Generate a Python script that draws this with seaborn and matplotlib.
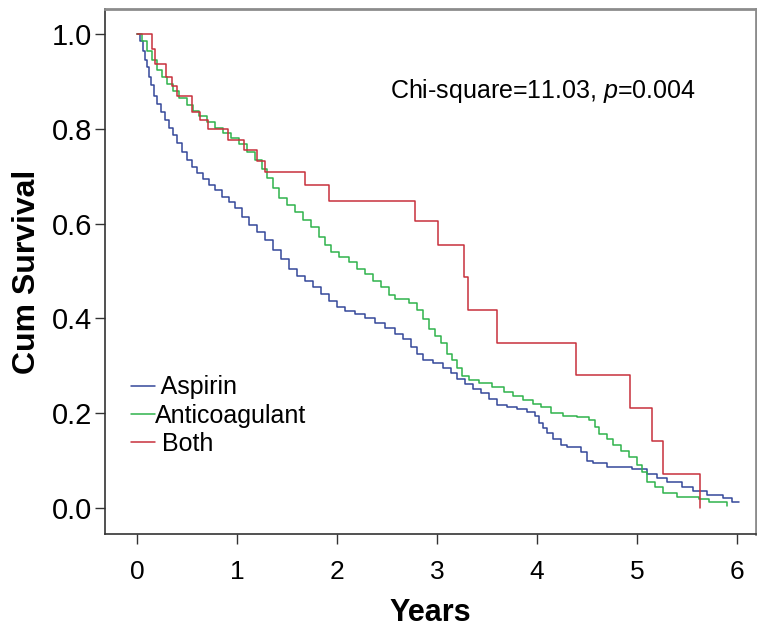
import matplotlib
matplotlib.use('Agg')
import matplotlib.pyplot as plt
import numpy
import pandas
import seaborn

# Kaplan-Meier step curves (time in years, cumulative survival)
aspirin_t = [0.00, 0.03, 0.06, 0.08, 0.10, 0.12, 0.14, 0.17, 0.20, 0.24, 0.28, 0.32, 0.36, 0.40,
             0.45, 0.50, 0.55, 0.60, 0.66, 0.72, 0.78, 0.85, 0.92, 0.98, 1.05, 1.12, 1.20, 1.28,
             1.36, 1.44, 1.52, 1.60, 1.68, 1.76, 1.84, 1.92, 2.00, 2.08, 2.18, 2.28, 2.38, 2.48,
             2.58, 2.66, 2.74, 2.80, 2.86, 2.96, 3.06, 3.14, 3.20, 3.28, 3.36, 3.44, 3.52, 3.60,
             3.70, 3.80, 3.90, 3.98, 4.02, 4.06, 4.10, 4.16, 4.24, 4.30, 4.44, 4.50, 4.56, 4.70,
             4.95, 5.10, 5.20, 5.30, 5.45, 5.56, 5.70, 5.86, 5.95, 6.02]
aspirin_s = [1.000, 0.985, 0.965, 0.945, 0.930, 0.910, 0.893, 0.870, 0.852, 0.835, 0.818, 0.802,
             0.787, 0.770, 0.752, 0.735, 0.720, 0.706, 0.695, 0.682, 0.670, 0.657, 0.645, 0.632,
             0.615, 0.598, 0.582, 0.565, 0.545, 0.525, 0.505, 0.490, 0.478, 0.467, 0.452, 0.437,
             0.425, 0.416, 0.410, 0.400, 0.390, 0.380, 0.368, 0.356, 0.340, 0.325, 0.312, 0.305,
             0.295, 0.285, 0.272, 0.262, 0.252, 0.243, 0.230, 0.218, 0.212, 0.208, 0.202, 0.195,
             0.180, 0.168, 0.158, 0.145, 0.133, 0.128, 0.118, 0.100, 0.094, 0.087, 0.082, 0.072,
             0.064, 0.055, 0.045, 0.036, 0.028, 0.020, 0.013, 0.013]

anticoag_t = [0.00, 0.05, 0.10, 0.15, 0.20, 0.25, 0.30, 0.36, 0.42, 0.50, 0.56, 0.62, 0.70, 0.78,
              0.86, 0.94, 1.02, 1.10, 1.18, 1.25, 1.30, 1.36, 1.42, 1.50, 1.58, 1.66, 1.74, 1.82,
              1.88, 1.94, 2.02, 2.12, 2.20, 2.28, 2.36, 2.44, 2.52, 2.58, 2.72, 2.80, 2.86, 2.92,
              2.98, 3.04, 3.10, 3.15, 3.20, 3.25, 3.32, 3.42, 3.55, 3.67, 3.76, 3.86, 3.96, 4.04,
              4.14, 4.26, 4.40, 4.52, 4.58, 4.62, 4.70, 4.76, 4.84, 4.92, 5.00, 5.05, 5.10, 5.18,
              5.26, 5.40, 5.62, 5.72, 5.90]
anticoag_s = [1.000, 0.985, 0.965, 0.945, 0.925, 0.910, 0.895, 0.880, 0.865, 0.850, 0.838, 0.828,
              0.815, 0.802, 0.792, 0.780, 0.768, 0.752, 0.735, 0.715, 0.697, 0.675, 0.655, 0.640,
              0.625, 0.608, 0.592, 0.572, 0.555, 0.540, 0.530, 0.518, 0.505, 0.493, 0.480, 0.466,
              0.450, 0.440, 0.432, 0.418, 0.398, 0.378, 0.362, 0.348, 0.325, 0.312, 0.295, 0.278,
              0.270, 0.263, 0.256, 0.245, 0.237, 0.228, 0.220, 0.213, 0.200, 0.195, 0.192, 0.185,
              0.170, 0.156, 0.145, 0.132, 0.120, 0.108, 0.090, 0.075, 0.055, 0.045, 0.032, 0.023,
              0.018, 0.012, 0.005]

both_t = [0.00, 0.15, 0.18, 0.29, 0.35, 0.40, 0.55, 0.63, 0.71, 0.91, 1.07, 1.20, 1.28, 1.68,
          1.92, 2.78, 3.01, 3.27, 3.31, 3.60, 4.39, 4.93, 5.15, 5.26, 5.63]
both_s = [1.000, 0.968, 0.937, 0.909, 0.890, 0.870, 0.835, 0.818, 0.800, 0.776, 0.755, 0.733,
          0.710, 0.681, 0.648, 0.605, 0.555, 0.487, 0.418, 0.348, 0.280, 0.210, 0.141, 0.072, 0.000]

group_names = ['Aspirin', 'Anticoagulant', 'Both']
group_colors = ['#34489a', '#2fb34c', '#c8303c']
legend_labels = [' Aspirin', 'Anticoagulant', ' Both']
stat_text = 'Chi-square=11.03, $\\it{p}$=0.004'

frames = []
for name, t, s in [('Aspirin', aspirin_t, aspirin_s),
                   ('Anticoagulant', anticoag_t, anticoag_s),
                   ('Both', both_t, both_s)]:
    frames.append(pandas.DataFrame({'Years': t, 'Survival': s, 'Group': name}))
km = pandas.concat(frames, ignore_index = True)

seaborn.set_style('white')
plt.rcParams['font.family'] = ['Liberation Sans', 'DejaVu Sans']
plt.rcParams['mathtext.fontset'] = 'custom'
plt.rcParams['mathtext.it'] = 'Liberation Sans:italic'
plt.rcParams['mathtext.rm'] = 'Liberation Sans'
plt.rcParams['text.color'] = 'black'
plt.rcParams['axes.labelcolor'] = 'black'

fig = plt.figure(figsize = (7.57, 6.28), dpi = 100)
ax = fig.add_axes([105 / 757, 1 - 534 / 628, 651 / 757, 525 / 628])

seaborn.lineplot(data = km, x = 'Years', y = 'Survival', hue = 'Group', hue_order = group_names,
                 palette = group_colors, drawstyle = 'steps-post', estimator = None, sort = False,
                 linewidth = 1.1, ax = ax)

ax.set_xlim(-0.32, 6.19)
ax.set_ylim(-0.055, 1.053)
ax.set_xticks(range(0, 7))
ax.set_yticks([0.0, 0.2, 0.4, 0.6, 0.8, 1.0])
ax.set_yticklabels(['0.0', '0.2', '0.4', '0.6', '0.8', '1.0'])
ax.tick_params(axis = 'both', which = 'major', direction = 'out', length = 7, width = 1,
               color = '#333333', labelcolor = 'black')
ax.tick_params(axis = 'x', labelsize = 19, pad = 12)
ax.tick_params(axis = 'y', labelsize = 21, pad = 2)
ax.xaxis.set_ticks_position('bottom')
ax.yaxis.set_ticks_position('left')

ax.set_xlabel('Years', fontsize = 22, fontweight = 'bold', labelpad = 10, color = 'black')
ax.set_ylabel('Cum Survival', fontsize = 23, fontweight = 'bold', labelpad = 7, color = 'black')

for side in ['left', 'bottom']:
    ax.spines[side].set_color('#333333')
    ax.spines[side].set_linewidth(1.2)
for side in ['top', 'right']:
    ax.spines[side].set_color('#8c8c8c')
    ax.spines[side].set_linewidth(2)

ax.text(2.53, 0.865, stat_text, fontsize = 18, ha = 'left', va = 'baseline', color = 'black')

handles, labels = ax.get_legend_handles_labels()
leg = ax.legend(handles, legend_labels, loc = 'upper left', bbox_to_anchor = (0.04, 0.302),
                frameon = False, fontsize = 18, handlelength = 0.95, handletextpad = 0.0,
                labelspacing = 0.17, borderpad = 0, borderaxespad = 0)
for txt in leg.get_texts():
    txt.set_color('black')

fig.savefig('out.png', dpi = 100)
